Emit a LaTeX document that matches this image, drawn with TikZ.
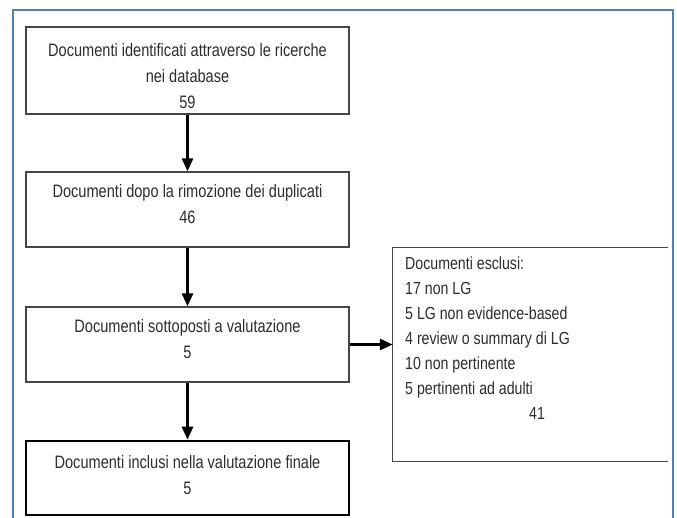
\documentclass[tikz,border=0pt]{standalone}
\usepackage{fontspec}
\setmainfont[FakeStretch=0.81]{Liberation Sans}
\usetikzlibrary{arrows.meta}
\definecolor{frameblue}{RGB}{79,129,189}
\definecolor{boxline}{RGB}{70,70,70}
\definecolor{txtcol}{RGB}{45,45,45}
\begin{document}
\begin{tikzpicture}[x=1pt,y=-1pt,
  box/.style={draw=boxline, line width=1.3pt, minimum width=323pt, inner sep=0pt},
  boldbox/.style={draw=black, line width=2.6pt, minimum width=323pt, inner sep=0pt},
  txt/.style={font=\fontsize{18}{26}\selectfont, text=txtcol, align=center, inner sep=0pt},
  ltxt/.style={font=\fontsize{17.5}{25}\selectfont, text=txtcol, align=left, inner sep=0pt, anchor=north west},
  arr/.style={draw=black, line width=2.6pt, -{Triangle[length=13pt,width=11pt]}}]
\useasboundingbox (0,0) rectangle (677,517);
\fill[white] (0,0) rectangle (677,517);
% outer frame
\draw[frameblue, line width=1.6pt] (13,530) -- (13,10) -- (673,10) -- (673,530);
% boxes
\node[box, minimum height=87pt] (b1) at (187.5,70.5) {};
\node[box, minimum height=75pt] (b2) at (187.5,209.5) {};
\node[box, minimum height=75pt] (b3) at (187.5,344.5) {};
\node[boldbox, minimum height=74pt] (b4) at (187.5,478) {};
\node[minimum width=275pt, minimum height=213pt, inner sep=0pt] (ex) at (530.5,354.5) {};
\draw[boxline, line width=1.3pt] (ex.north east) -- (ex.north west) -- (ex.south west) -- (ex.south east);
% texts
\node[txt] (t1) at (187.5,76.5) {Documenti identificati attraverso le ricerche\\nei database\\59};
\node[txt] (t2) at (187.5,204) {Documenti dopo la rimozione dei duplicati\\46};
\node[txt] (t3) at (187.5,339) {Documenti sottoposti a valutazione\\5};
\node[txt] (t4) at (187.5,475) {Documenti inclusi nella valutazione finale\\5};
\node[ltxt] (t5) at (405,257) {Documenti esclusi:\\17 non LG\\5 LG non evidence-based\\4 review o summary di LG\\10 non pertinente\\5 pertinenti ad adulti\\\hspace*{124pt}41};
% arrows
\draw[arr] (b1.south) -- (b2.north);
\draw[arr] (b2.south) -- (b3.north);
\draw[arr] (b3.south) -- (b4.north);
\draw[arr] (b3.east) -- (b3.east -| ex.west);
\end{tikzpicture}
\end{document}
